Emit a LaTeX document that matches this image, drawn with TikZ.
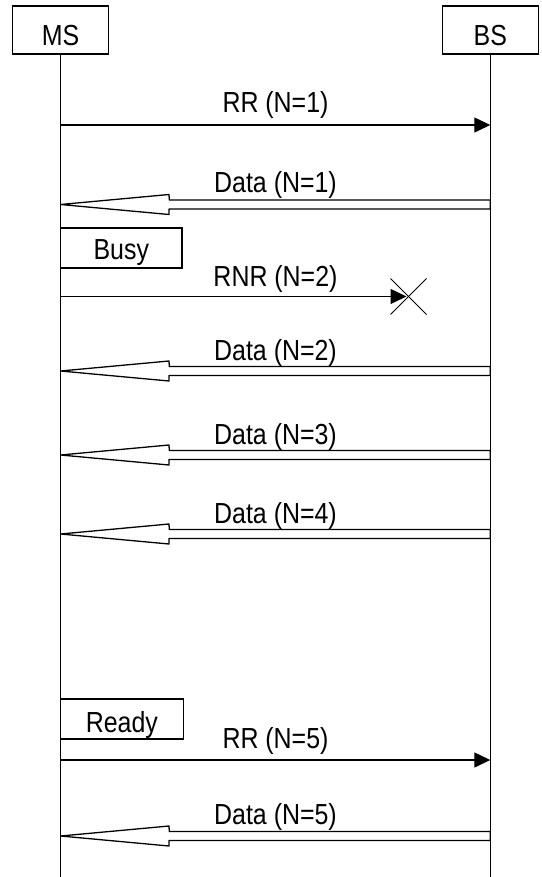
\documentclass[tikz,border=0pt]{standalone}
\usepackage{fontspec}
\setmainfont{Liberation Sans}[FakeStretch=0.86]
\usetikzlibrary{arrows.meta}
\newcommand\datamsg[4]{% #1 source coord, #2 target coord, #3 label node name, #4 label text
  \draw[hollow] ([yshift=4.5pt]#1) -- ([xshift=-321pt,yshift=4.5pt]#1)
     -- ([xshift=108.5pt,yshift=10pt]#2) -- (#2)
     -- ([xshift=108.5pt,yshift=-10pt]#2) -- ([xshift=108.5pt,yshift=-4.5pt]#2)
     -- ([yshift=-4.5pt]#1) -- cycle;
}
\begin{document}
\begin{tikzpicture}[x=1pt,y=-1pt,line width=1.3pt,
  txt/.style={font=\fontsize{29}{34}\selectfont},
  lbl/.style={txt,anchor=base,inner sep=0pt},
  entity/.style={txt,draw,inner sep=0pt,minimum width=96pt,minimum height=48pt,text depth=0pt,text height=31.4pt},
  statebox/.style={txt,draw,inner sep=0pt,minimum width=121.5pt,minimum height=40pt,text depth=0pt},
  msg/.style={-{Triangle[length=16pt,width=15pt]}},
  hollow/.style={fill=white,line join=round}]
\useasboundingbox (0,0) rectangle (541,877);
% entities and lifelines
\node[entity] (ms) at (60.5,30) {MS};
\node[entity] (bs) at (490.3,30) {BS};
\coordinate (msend) at (60.5,877);
\coordinate (bsend) at (490.3,877);
\draw (ms.south) -- (msend);
\draw (bs.south) -- (bsend);
% RR (N=1)
\coordinate (m1) at (60.5,125);
\coordinate (b1) at (490.3,125);
\draw[msg] (m1) -- (b1);
\node[lbl] (t1) at (275.5,113) {RR (N=1)};
% Data (N=1)
\coordinate (b2) at (490.3,204.5);
\coordinate (m2) at (60.5,204.5);
\datamsg{b2}{m2}{t2}{}
\node[lbl] (t2) at (275.5,193) {Data (N=1)};
% Busy
\node[statebox,text height=22.6pt] (busy) at (121.25,248) {Busy};
% RNR (N=2)
\coordinate (m3) at (60.5,296.5);
\coordinate (x3) at (406.5,296.5);
\coordinate (lost) at (408.5,296.5);
\draw[msg] (m3) -- (x3);
\draw[line width=1pt] ([xshift=-18pt,yshift=18pt]lost) -- ([xshift=18pt,yshift=-18pt]lost);
\draw[line width=1pt] ([xshift=-18pt,yshift=-18pt]lost) -- ([xshift=18pt,yshift=18pt]lost);
\node[lbl] (t3) at (275.5,286.7) {RNR (N=2)};
% Data (N=2)
\coordinate (b4) at (490.3,371);
\coordinate (m4) at (60.5,371);
\datamsg{b4}{m4}{t4}{}
\node[lbl] (t4) at (275.5,360) {Data (N=2)};
% Data (N=3)
\coordinate (b5) at (490.3,455);
\coordinate (m5) at (60.5,455);
\datamsg{b5}{m5}{t5}{}
\node[lbl] (t5) at (275.5,444) {Data (N=3)};
% Data (N=4)
\coordinate (b6) at (490.3,534);
\coordinate (m6) at (60.5,534);
\datamsg{b6}{m6}{t6}{}
\node[lbl] (t6) at (275.5,523) {Data (N=4)};
% Ready
\node[statebox,minimum width=122.8pt,text height=26.9pt] (ready) at (121.9,718.85) {Ready};
% RR (N=5)
\coordinate (m7) at (60.5,760);
\coordinate (b7) at (490.3,760);
\draw[msg] (m7) -- (b7);
\node[lbl] (t7) at (275.5,748.5) {RR (N=5)};
% Data (N=5)
\coordinate (b8) at (490.3,836);
\coordinate (m8) at (60.5,836);
\datamsg{b8}{m8}{t8}{}
\node[lbl] (t8) at (275.5,824.5) {Data (N=5)};
\end{tikzpicture}
\end{document}
